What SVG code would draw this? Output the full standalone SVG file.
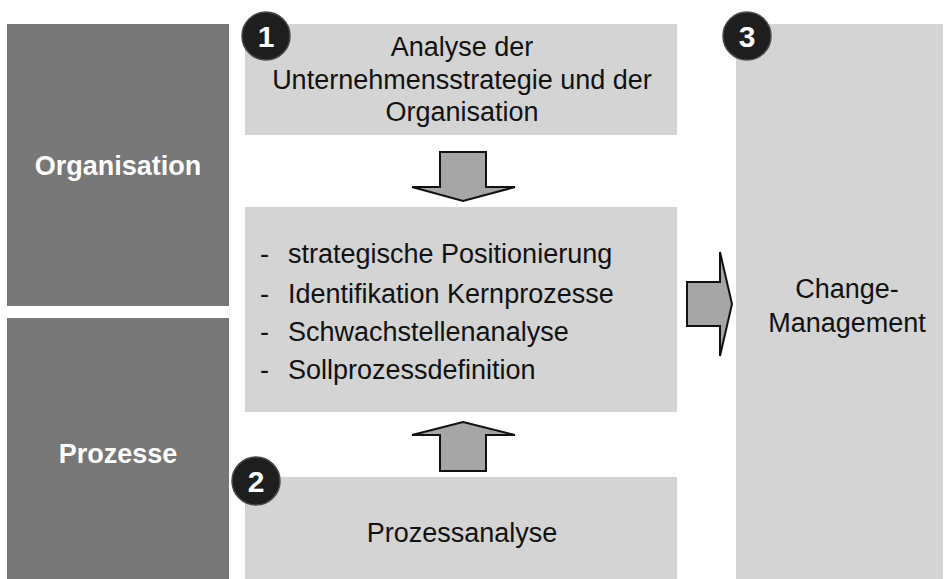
<svg xmlns="http://www.w3.org/2000/svg" width="945" height="579" viewBox="0 0 945 579">
<style>
.dark{fill:#777777}
.light{fill:#d4d4d4}
.t{font-family:"Liberation Sans",Arial,sans-serif;font-size:27px;fill:#111111}
.tb{font-family:"Liberation Sans",Arial,sans-serif;font-size:27px;font-weight:bold;fill:#ffffff}
.num{font-family:"Liberation Sans",Arial,sans-serif;font-size:30px;font-weight:bold;fill:#ffffff;text-anchor:middle}
.badge{fill:#1e1e1e;stroke:#4a4a4a;stroke-width:1.5}
.arrow{fill:#a6a6a6;stroke:#111111;stroke-width:2;stroke-linejoin:miter}
</style>
<rect width="945" height="579" fill="#ffffff"/>
<g id="organisation">
<rect class="dark" x="7" y="24" width="222" height="282"/>
<text class="tb" x="118" y="175" text-anchor="middle">Organisation</text>
</g>
<g id="prozesse">
<rect class="dark" x="7" y="318" width="222" height="261"/>
<text class="tb" x="118" y="463" text-anchor="middle">Prozesse</text>
</g>
<g id="analyse">
<rect class="light" x="245" y="24" width="432" height="111"/>
<text class="t" text-anchor="middle"><tspan x="462" y="56">Analyse der</tspan><tspan x="462" y="89">Unternehmensstrategie und der</tspan><tspan x="462" y="121">Organisation</tspan></text>
<circle class="badge" cx="266" cy="36" r="24"/>
<text class="num" x="266" y="47">1</text>
</g>
<g id="massnahmen">
<rect class="light" x="245" y="207" width="432" height="205"/>
<text class="t"><tspan x="260" y="263">-</tspan><tspan x="288" y="263">strategische Positionierung</tspan><tspan x="260" y="303">-</tspan><tspan x="288" y="303">Identifikation Kernprozesse</tspan><tspan x="260" y="341">-</tspan><tspan x="288" y="341">Schwachstellenanalyse</tspan><tspan x="260" y="379">-</tspan><tspan x="288" y="379">Sollprozessdefinition</tspan></text>
</g>
<g id="prozessanalyse">
<rect class="light" x="245" y="477" width="432" height="102"/>
<text class="t" x="462" y="542" text-anchor="middle">Prozessanalyse</text>
<circle class="badge" cx="256" cy="481" r="24"/>
<text class="num" x="256" y="492">2</text>
</g>
<g id="change">
<rect class="light" x="736" y="24" width="207" height="555"/>
<text class="t" text-anchor="middle"><tspan x="847" y="298">Change-</tspan><tspan x="847" y="332">Management</tspan></text>
<circle class="badge" cx="747" cy="36" r="24"/>
<text class="num" x="747" y="47">3</text>
</g>
<g id="connectors">
<path class="arrow" d="M440,152 H486 V187 H515 L463,201 L412,187 H440 Z"/>
<path class="arrow" d="M463,422 L515,435 H486 V471 H440 V435 H412 Z"/>
<path class="arrow" d="M687,282 H720 V252 L732,304 L720,356 V326 H687 Z"/>
</g>
</svg>
